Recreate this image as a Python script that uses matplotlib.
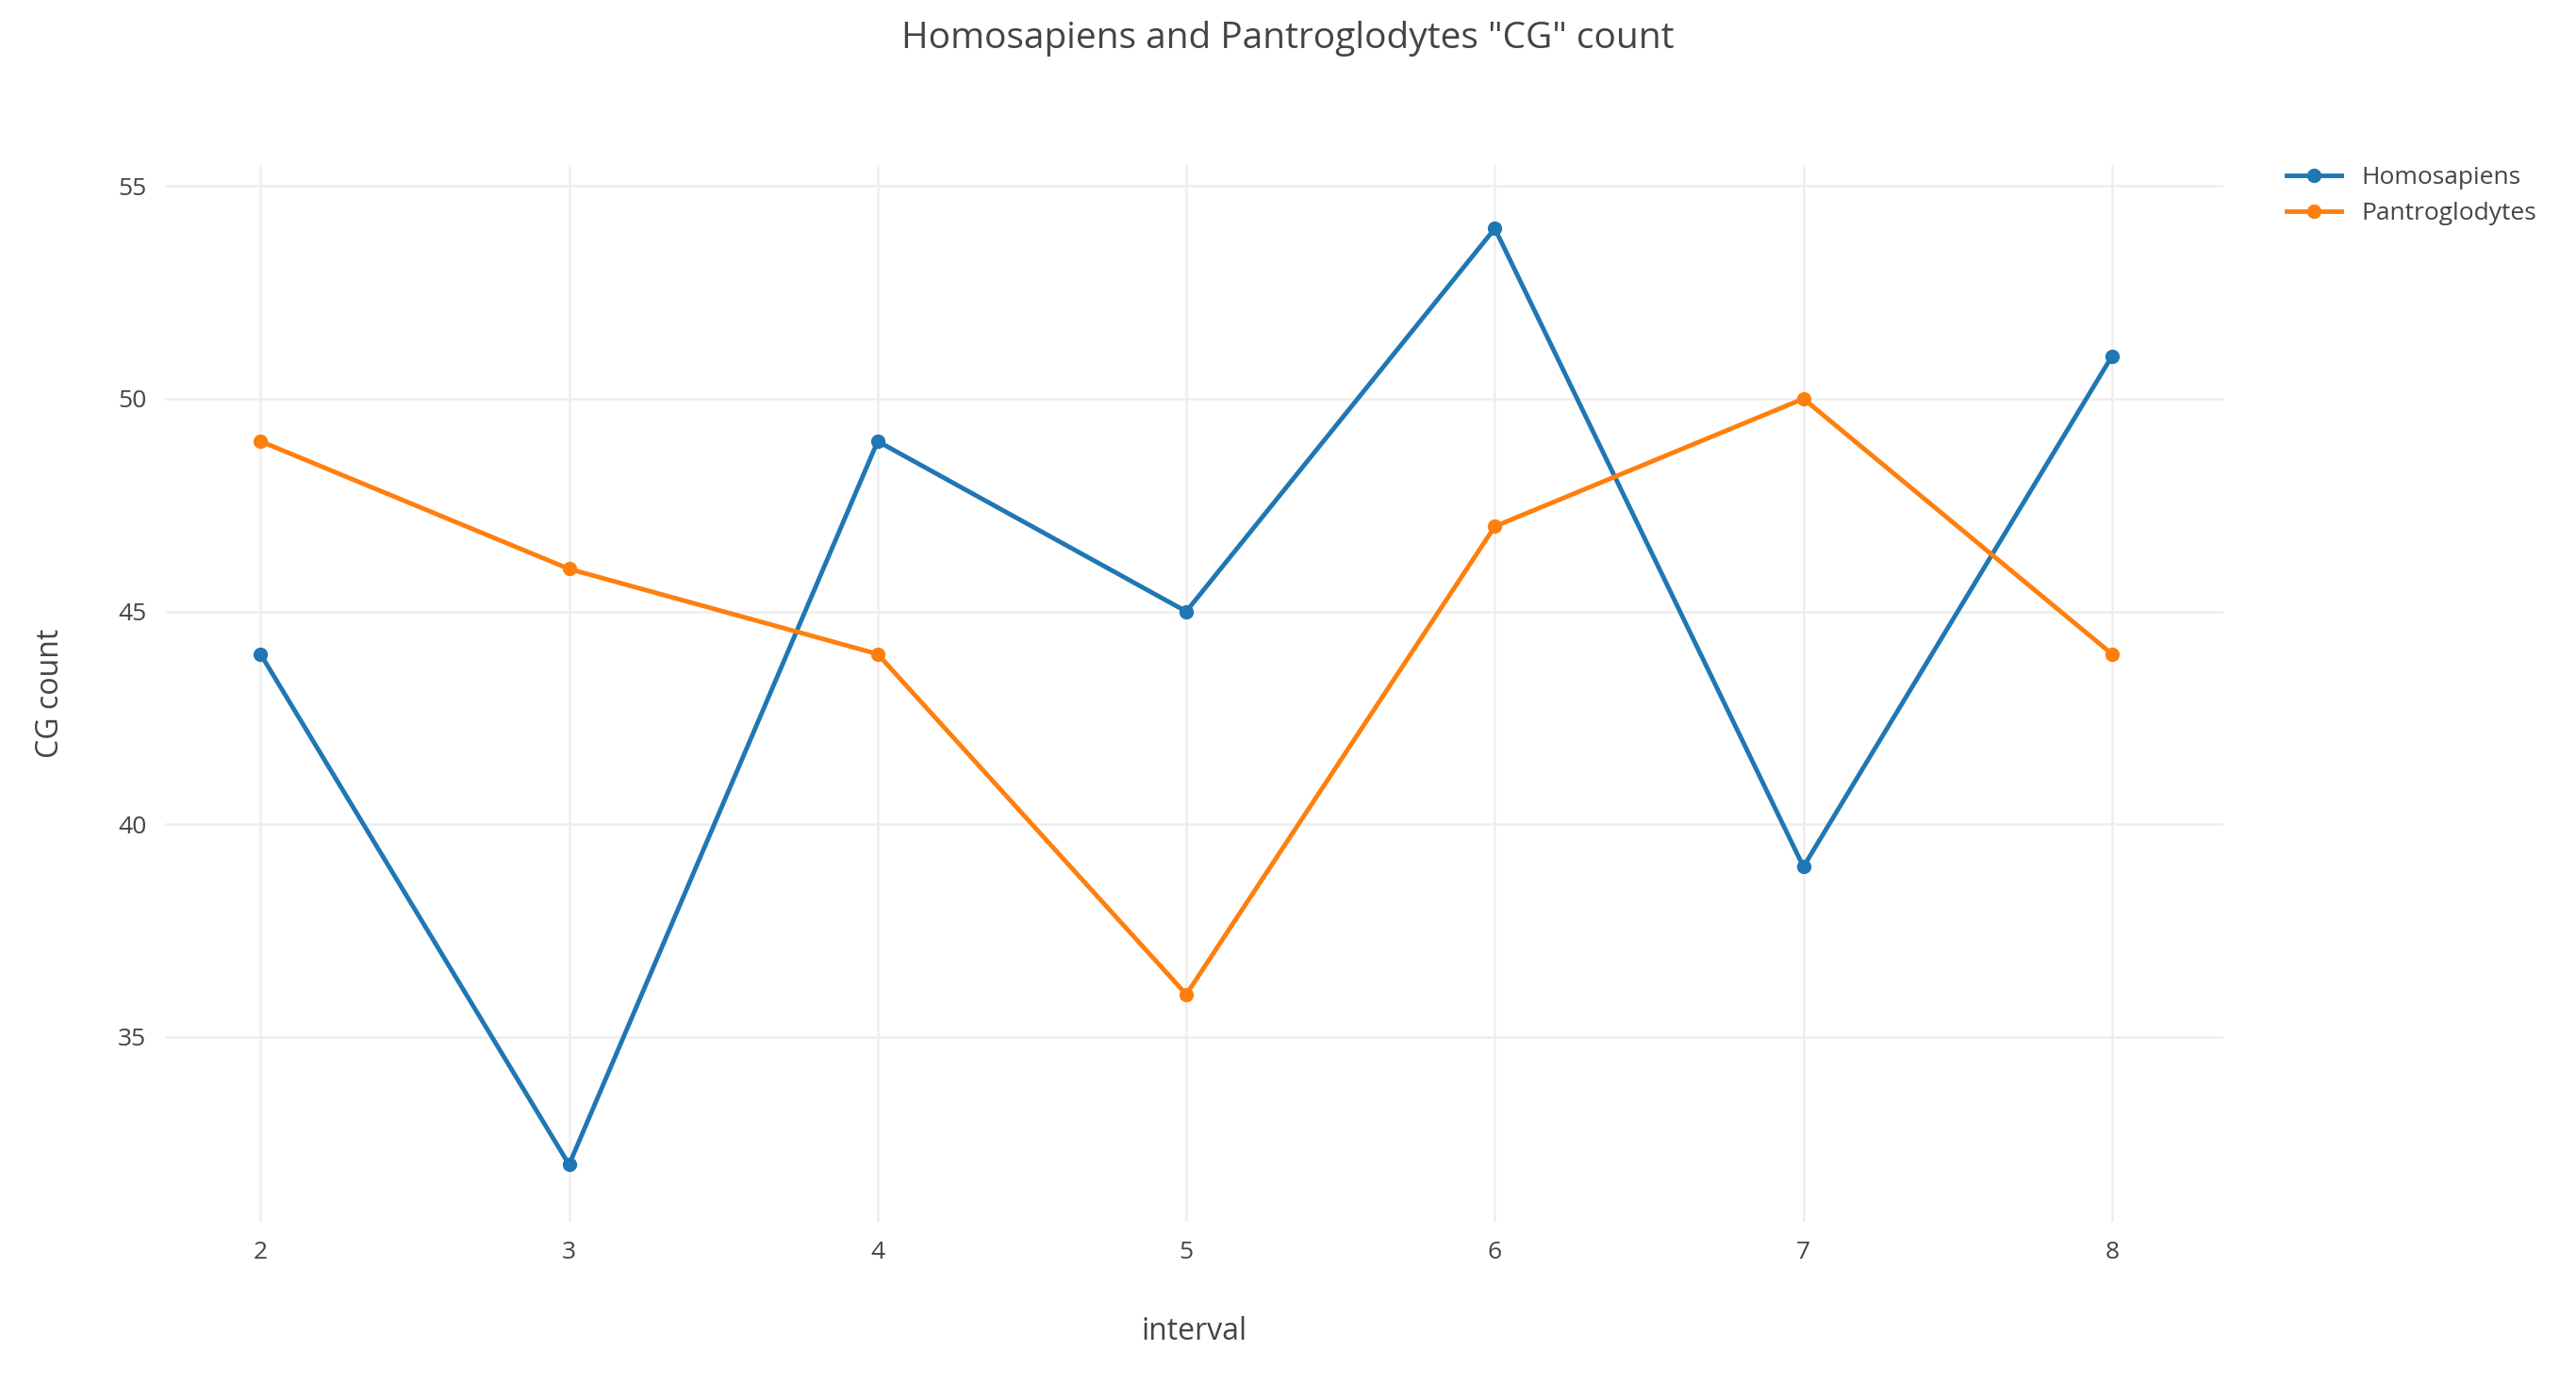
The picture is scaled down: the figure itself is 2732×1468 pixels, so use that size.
import matplotlib
matplotlib.use("Agg")
import matplotlib.pyplot as plt

interval = [2, 3, 4, 5, 6, 7, 8]
homosapiens = [44, 32, 49, 45, 54, 39, 51]
pantroglodytes = [49, 46, 44, 36, 47, 50, 44]

plt.rcParams['font.family'] = ['Open Sans', 'DejaVu Sans']
fig = plt.figure(figsize=(27.32, 14.68), dpi=100)
ax = fig.add_axes([0.064, 0.117, 0.799, 0.764])
ax.plot(interval, homosapiens, '-o', color='#1f77b4', lw=3.5, ms=10, label='Homosapiens')
ax.plot(interval, pantroglodytes, '-o', color='#ff7f0e', lw=3.5, ms=10, label='Pantroglodytes')
ax.set_xlim(1.69, 8.36)
ax.set_ylim(30.65, 55.5)
ax.set_yticks([35, 40, 45, 50, 55])
ax.set_xticks(interval)
ax.grid(True, color='#eeeeee', lw=1.8)
ax.set_axisbelow(True)
for s in ax.spines.values():
    s.set_visible(False)
ax.tick_params(length=0, labelsize=19, colors='#444444', pad=14)
ax.set_xlabel('interval', fontsize=23, color='#444444', labelpad=40)
ax.set_ylabel('CG count', fontsize=23, color='#444444', labelpad=40)
fig.suptitle('Homosapiens and Pantroglodytes "CG" count', fontsize=28, color='#444444', y=0.985)
ax.legend(loc='upper left', bbox_to_anchor=(1.02, 1.02), frameon=False, fontsize=19,
          labelcolor='#444444', handlelength=2.2)
fig.savefig('out.png')
